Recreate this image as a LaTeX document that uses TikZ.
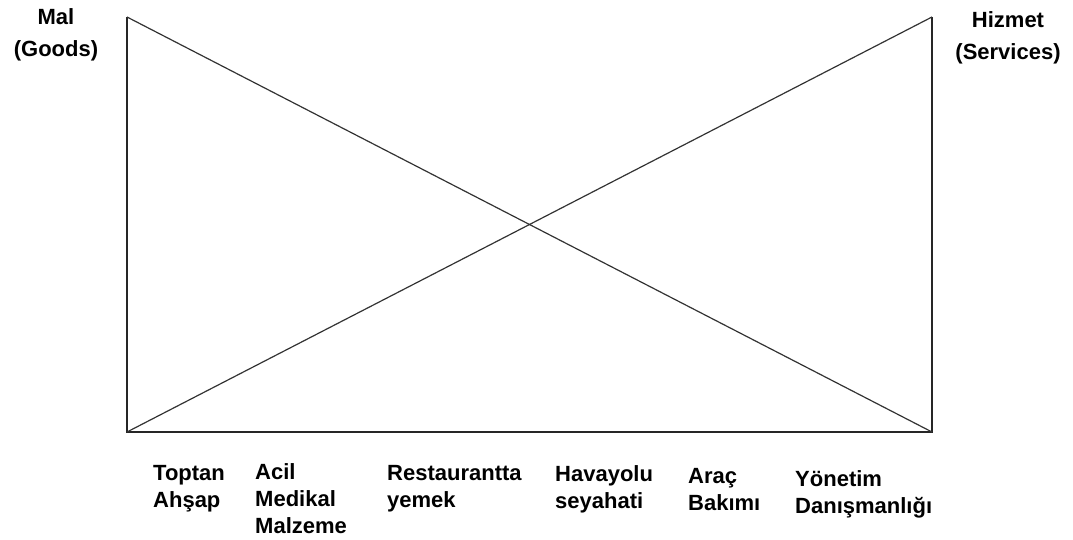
\documentclass[tikz,border=0pt]{standalone}
\usepackage{fontspec}
\setmainfont{Liberation Sans}
\begin{document}
\begin{tikzpicture}[x=1pt,y=-1pt,
  frame/.style={line width=1.4pt,draw=black!85},
  diag/.style={line width=1.2pt,draw=black!80},
  lbl/.style={inner sep=0pt,align=left,anchor=base west,font=\fontsize{22}{27}\selectfont\bfseries},
  toplbl/.style={inner sep=0pt,align=center,anchor=base,font=\fontsize{22}{32}\selectfont\bfseries}]
\useasboundingbox (0,0) rectangle (1073,540);
\coordinate (tl) at (127,17);
\coordinate (tr) at (932,17);
\coordinate (bl) at (127,432);
\coordinate (br) at (932,432);
\draw[frame] (tl) -- (bl) -- (br) -- (tr);
\draw[diag] (tl) -- (br);
\draw[diag] (bl) -- (tr);
\node[toplbl] (mal) at (56,57) {Mal\\(Goods)};
\node[toplbl] (hiz) at (1008,60) {Hizmet\\(Services)};
\node[lbl] (l1) at (153,507) {Toptan\\Ahşap};
\node[lbl] (l2) at (255,533) {Acil\\Medikal\\Malzeme};
\node[lbl] (l3) at (387,507) {Restaurantta\\yemek};
\node[lbl] (l4) at (555,508) {Havayolu\\seyahati};
\node[lbl] (l5) at (688,510) {Araç\\Bakımı};
\node[lbl] (l6) at (795,513) {Yönetim\\Danışmanlığı};
\end{tikzpicture}
\end{document}
